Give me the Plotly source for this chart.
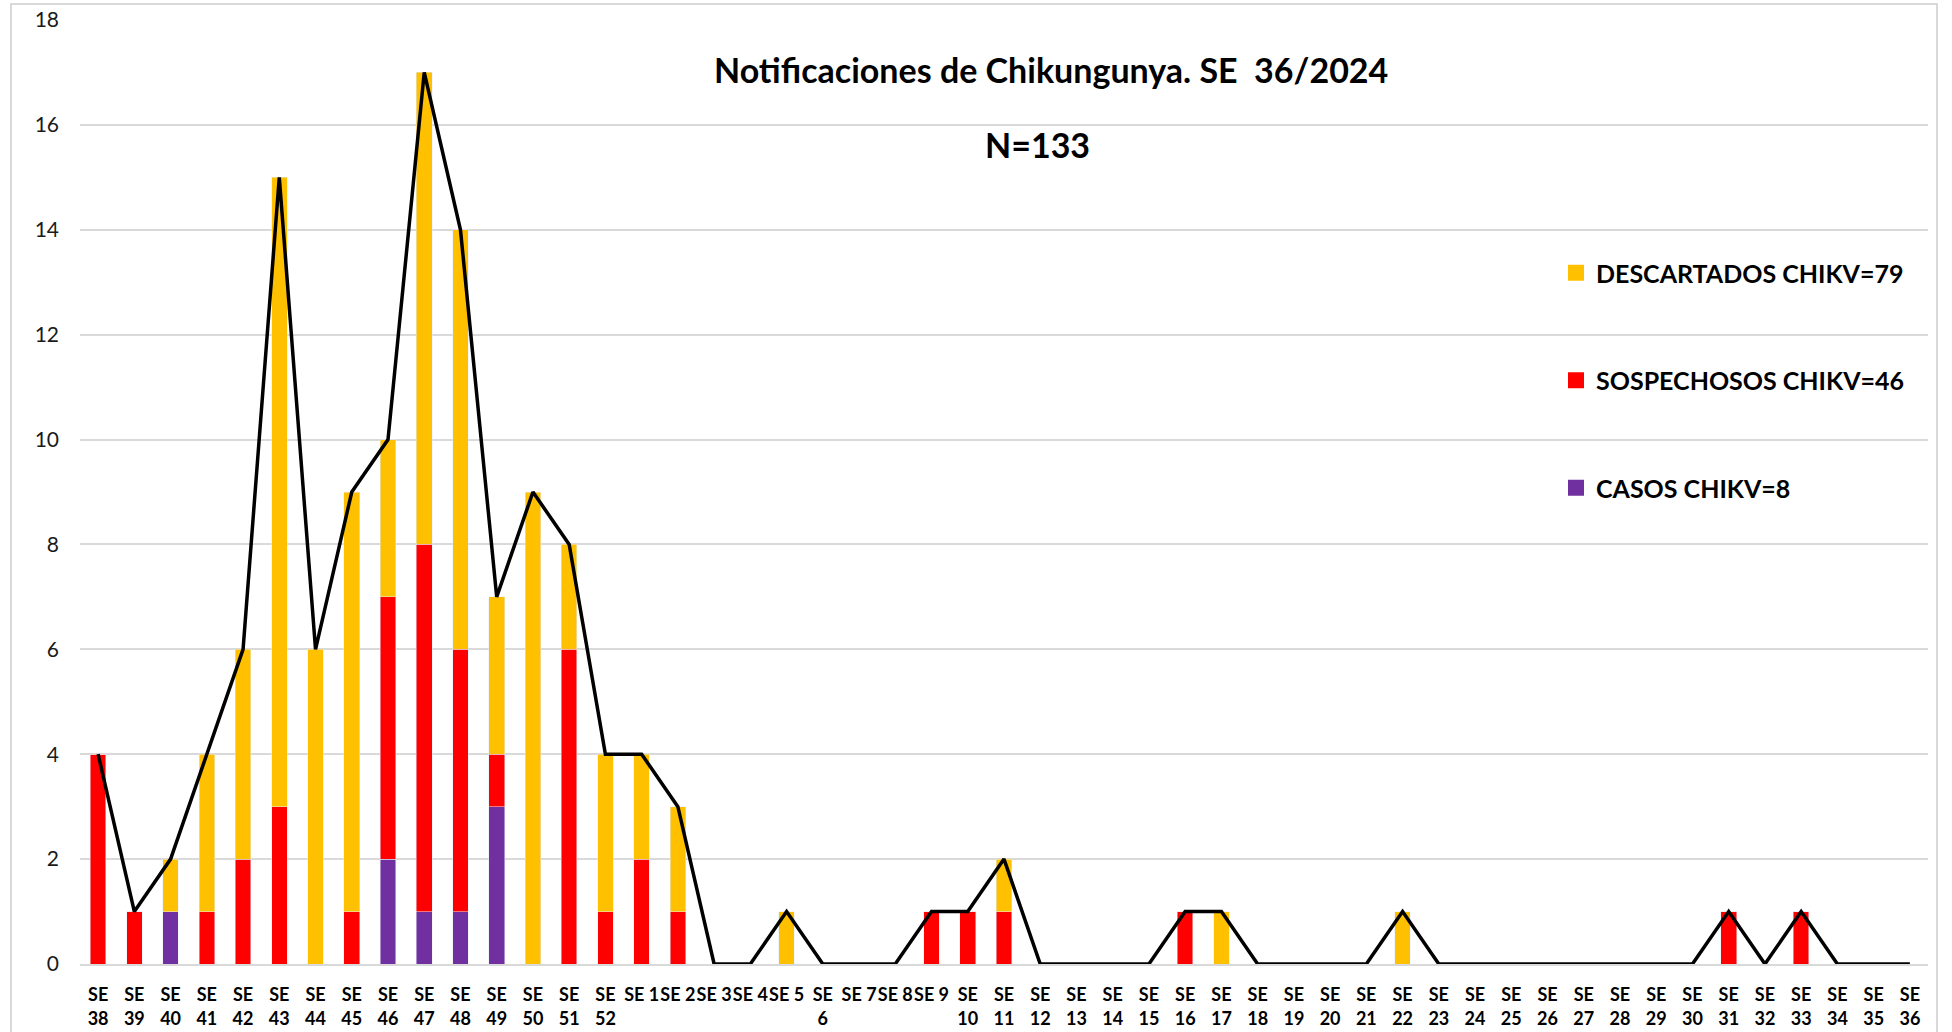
import plotly.graph_objects as go

# ---- data ----
weeks = ["38", "39", "40", "41", "42", "43", "44", "45", "46", "47", "48", "49", "50", "51", "52",
         "1", "2", "3", "4", "5", "6", "7", "8", "9", "10", "11", "12", "13", "14", "15", "16",
         "17", "18", "19", "20", "21", "22", "23", "24", "25", "26", "27", "28", "29", "30",
         "31", "32", "33", "34", "35", "36"]
categories = ["SE " + w for w in weeks]
tick_labels = ["SE " + w if w in ("1", "2", "3", "4", "5", "7", "8", "9") else "SE<br>" + w for w in weeks]

casos = [0, 0, 1, 0, 0, 0, 0, 0, 2, 1, 1, 3, 0, 0, 0,
         0, 0, 0, 0, 0, 0, 0, 0, 0, 0, 0, 0, 0, 0, 0, 0,
         0, 0, 0, 0, 0, 0, 0, 0, 0, 0, 0, 0, 0, 0,
         0, 0, 0, 0, 0, 0]
sospechosos = [4, 1, 0, 1, 2, 3, 0, 1, 5, 7, 5, 1, 0, 6, 1,
               2, 1, 0, 0, 0, 0, 0, 0, 1, 1, 1, 0, 0, 0, 0, 1,
               0, 0, 0, 0, 0, 0, 0, 0, 0, 0, 0, 0, 0, 0,
               1, 0, 1, 0, 0, 0]
descartados = [0, 0, 1, 3, 4, 12, 6, 8, 3, 9, 8, 3, 9, 2, 3,
               2, 2, 0, 0, 1, 0, 0, 0, 0, 0, 1, 0, 0, 0, 0, 0,
               1, 0, 0, 0, 0, 1, 0, 0, 0, 0, 0, 0, 0, 0,
               0, 0, 0, 0, 0, 0]
total = [a + b + c for a, b, c in zip(casos, sospechosos, descartados)]

series_names = ["CASOS CHIKV=8", "SOSPECHOSOS CHIKV=46", "DESCARTADOS CHIKV=79"]
series_colors = ["#7030A0", "#FF0000", "#FFC000"]
y_ticks = [0, 2, 4, 6, 8, 10, 12, 14, 16, 18]

# ---- layout geometry (pixels) ----
W, H = 1952, 1032
L, R, T, B = 80, 24, 20, 68
PW, PH = W - L - R, H - T - B


def px_x(x):
    return (x - L) / PW


def px_y(y):
    return (H - B - y) / PH


FONT = "Lato"
fig = go.Figure()
for vals, name, col in zip([casos, sospechosos, descartados], series_names, series_colors):
    fig.add_trace(go.Bar(x=categories, y=vals, name=name, marker_color=col, showlegend=False))
fig.add_trace(go.Scatter(x=categories, y=total, mode="lines", line=dict(color="black", width=3.5),
                         showlegend=False))
# legend entries (square swatches)
for rank, (name, col) in enumerate(zip(reversed(series_names), reversed(series_colors))):
    fig.add_trace(go.Scatter(x=[None], y=[None], mode="markers", name=name,
                             marker=dict(symbol="square", size=16, color=col),
                             legendgroup=name, legendrank=rank + 1, showlegend=True))

fig.update_layout(
    width=W, height=H,
    margin=dict(l=L, r=R, t=T, b=B, autoexpand=False),
    paper_bgcolor="white", plot_bgcolor="white",
    barmode="stack", bargap=0.57,
    font=dict(family=FONT, color="#000000"),
    legend=dict(
        x=px_x(1556), y=px_y(250), xanchor="left", yanchor="top",
        traceorder="grouped", tracegroupgap=72, itemsizing="trace",
        font=dict(family=FONT, size=25, color="#000000", weight="bold"),
        bgcolor="rgba(0,0,0,0)",
    ),
    annotations=[
        dict(text="Notificaciones de Chikungunya. SE  36/2024", xref="paper", yref="paper",
             x=px_x(1051), y=px_y(69), showarrow=False, xanchor="center", yanchor="middle",
             font=dict(family=FONT, size=34, weight="bold", color="#000000")),
        dict(text="N=133", xref="paper", yref="paper",
             x=px_x(1037), y=px_y(144), showarrow=False, xanchor="center", yanchor="middle",
             font=dict(family=FONT, size=34, weight="bold", color="#000000")),
    ],
    shapes=[
        dict(type="rect", xref="paper", yref="paper",
             x0=px_x(11), x1=px_x(1937), y0=px_y(1045), y1=px_y(4),
             line=dict(color="#D9D9D9", width=2), fillcolor="rgba(0,0,0,0)", layer="below"),
    ],
)

fig.update_xaxes(
    type="category", tickmode="array", tickvals=categories, ticktext=tick_labels,
    tickangle=0, showgrid=False, showline=True, linecolor="#D9D9D9", linewidth=1.5,
    ticks="", ticklabelstandoff=14, automargin=False,
    tickfont=dict(family=FONT, size=18, weight="bold", color="#000000"),
)
fig.update_yaxes(
    range=[0, 18], tickmode="array", tickvals=y_ticks,
    showgrid=True, gridcolor="#D9D9D9", gridwidth=1.5, zeroline=False,
    ticks="", ticklabelstandoff=20, automargin=False,
    tickfont=dict(family=FONT, size=21, color="#1a1a1a"),
)

fig.write_html("out.html", config={"displayModeBar": False},
               post_script="document.body.style.margin='0';document.body.style.overflow='hidden';")
